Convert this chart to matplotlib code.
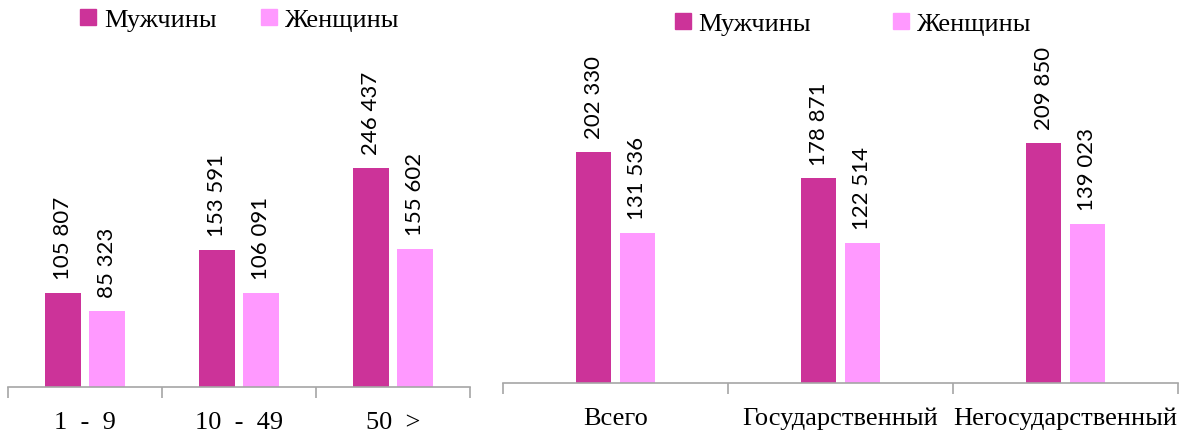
import matplotlib.pyplot as plt
from matplotlib.patches import Patch

plt.rcParams['font.family'] = ['Liberation Serif', 'DejaVu Serif']

# left panel: by enterprise size
size_groups = ['1  -  9', '10  -  49', '50  >']
men_size = [105807, 153591, 246437]
women_size = [85323, 106091, 155602]

# right panel: by ownership
owner_groups = ['Всего', 'Государственный', 'Негосударственный']
men_owner = [202330, 178871, 209850]
women_owner = [131536, 122514, 139023]

men_color = '#CC3399'
women_color = '#FF99FF'

W, H = 1188, 435
fig = plt.figure(figsize=(W / 100, H / 100), dpi=100)


def fmt(v):
    return f'{v:,}'.replace(',', ' ')


def panel(rect, cats, men, women, width, offset, ymax):
    x0, y0, x1, y1 = rect
    ax = fig.add_axes([x0 / W, 1 - y1 / H, (x1 - x0) / W, (y1 - y0) / H])
    xs = range(len(cats))
    for i in xs:
        for val, col, dx in ((men[i], men_color, -offset), (women[i], women_color, offset)):
            ax.bar(i + dx, val, width=width, color=col)
            ax.annotate(fmt(val), (i + dx, val), xytext=(0, 10), textcoords='offset points',
                        rotation=90, ha='center', va='bottom', fontsize=16,
                        family=['Lato', 'DejaVu Sans'])
    ax.set_xlim(-0.5, len(cats) - 0.5)
    ax.set_ylim(0, ymax)
    ax.set_yticks([])
    for s in ('left', 'right', 'top'):
        ax.spines[s].set_visible(False)
    ax.spines['bottom'].set_color('#A6A6A6')
    ax.spines['bottom'].set_linewidth(1.2)
    ax.set_xticks([i - 0.5 for i in range(len(cats) + 1)])
    ax.set_xticklabels([])
    ax.tick_params(axis='x', length=8, color='#A6A6A6', width=1.2)
    ax.set_xticks(list(xs), minor=True)
    ax.set_xticklabels(cats, minor=True, fontsize=19)
    ax.tick_params(axis='x', which='minor', length=0, pad=17)
    return ax


panel((8, 32, 470, 388), size_groups, men_size, women_size, 0.234, 0.143, 400000)
panel((503, 41, 1178, 384), owner_groups, men_owner, women_owner, 0.156, 0.096, 300000)

handles = [Patch(color=men_color, label='Мужчины'), Patch(color=women_color, label='Женщины')]
for cx, cy, gap in ((240, 21, 1.7), (853, 25, 3.1)):
    fig.legend(handles=handles, loc='center', bbox_to_anchor=(cx / W, 1 - cy / H), ncol=2,
               frameon=False, fontsize=19, handlelength=0.6, handleheight=0.6,
               handletextpad=0.3, columnspacing=gap, borderpad=0)

fig.savefig('out.png', dpi=100)
